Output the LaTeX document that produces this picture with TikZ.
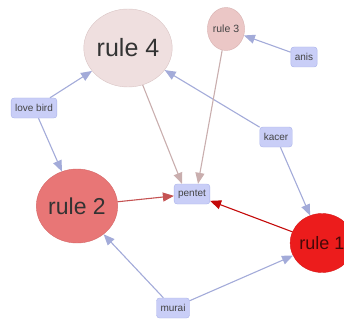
\documentclass[tikz,border=0pt]{standalone}
\usepackage{fontspec}
\setmainfont{Liberation Sans}
\usepackage{tikz}
\usetikzlibrary{arrows.meta}
\usetikzlibrary{shapes.geometric}
\usetikzlibrary{positioning}

\definecolor{boxfill}{HTML}{C9CEF7}
\definecolor{boxline}{HTML}{AAB2EA}
\definecolor{bluelink}{HTML}{A3ABD9}
\definecolor{greylink}{HTML}{C9AEAE}
\definecolor{redlink}{HTML}{C55353}
\definecolor{darklink}{HTML}{C40A0A}
\definecolor{textgrey}{HTML}{444444}
\definecolor{fourfill}{HTML}{EFDFDF}
\definecolor{fourline}{HTML}{D9C5C5}
\definecolor{threefill}{HTML}{EBC7C6}
\definecolor{threeline}{HTML}{D8B1B1}
\definecolor{twofill}{HTML}{E87676}
\definecolor{twoline}{HTML}{D56767}
\definecolor{onefill}{HTML}{EC1C1C}
\definecolor{oneline}{HTML}{D51818}

\begin{document}
\begin{tikzpicture}[x=1pt,y=-1pt,
  item/.style={draw=boxline,fill=boxfill,rounded corners=3pt,minimum height=20pt,
    inner xsep=4pt,text=textgrey,font=\fontsize{10}{10}\selectfont},
  rule/.style={ellipse,draw,inner sep=0pt,text=textgrey},
  link/.style={-{Triangle[length=11pt,width=9pt]},line width=1.1pt}]

  \useasboundingbox (0,0) rectangle (344,323);

  \node[rule,fill=fourfill,draw=fourline,minimum width=70pt,minimum height=78pt,
    font=\fontsize{25}{25}\selectfont,text=black!80] (rule4) at (128,48) {rule 4};
  \node[rule,fill=threefill,draw=threeline,minimum width=37pt,minimum height=43pt,
    font=\fontsize{10.5}{10.5}\selectfont] (rule3) at (226,29) {rule 3};
  \node[rule,fill=twofill,draw=twoline,minimum width=64pt,minimum height=74pt,
    font=\fontsize{23}{23}\selectfont,text=black!80] (rule2) at (77,206) {rule 2};
  \node[rule,fill=onefill,draw=oneline,minimum width=54pt,minimum height=59pt,
    font=\fontsize{18}{18}\selectfont,text=black!70!onefill] (rule1) at (322,243) {rule 1};

  \node[item] (anis) at (304,57) {anis};
  \node[item] (lovebird) at (34,108) {love bird};
  \node[item] (kacer) at (276,137) {kacer};
  \node[item] (pentet) at (192,194) {pentet};
  \node[item] (murai) at (173,308) {murai};

  \path[link,color=bluelink] (lovebird) edge (rule4)
                                        edge (rule2)
            (anis) edge (rule3)
            (kacer) edge (rule4)
                    edge (rule1)
            (murai) edge (rule2)
                    edge (rule1);

  \path[link,color=greylink] (rule4) edge ([xshift=-10pt]pentet.north)
            (rule3) edge ([xshift=6pt]pentet.north);
  \path[link,color=redlink] (rule2) edge (pentet);
  \path[link,color=darklink] (rule1) edge (pentet);

\end{tikzpicture}
\end{document}
